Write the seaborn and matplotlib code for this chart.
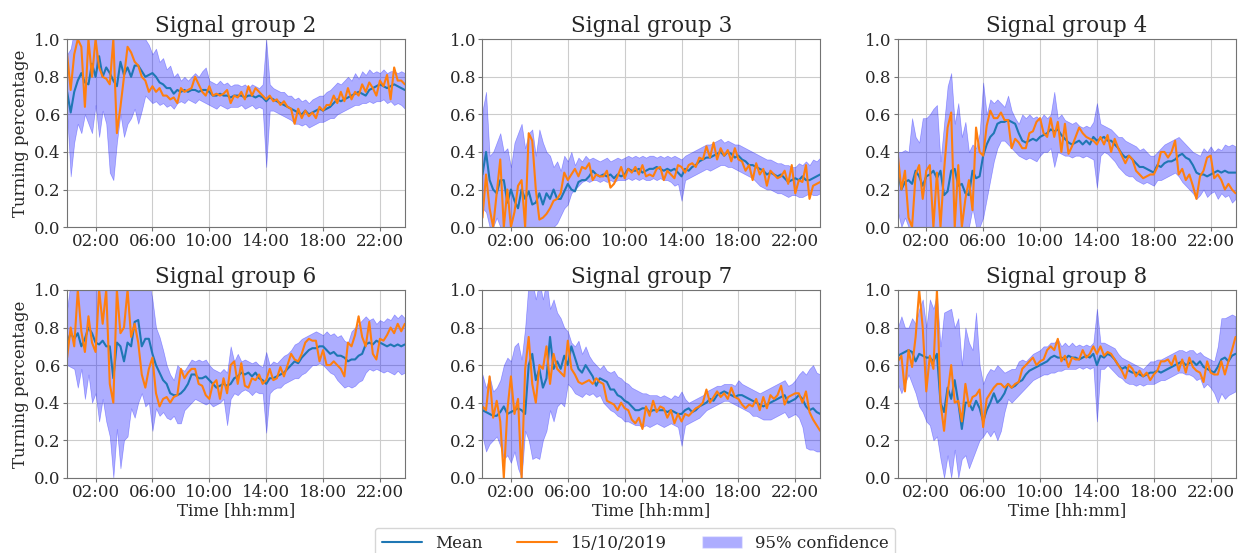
import numpy as np
import pandas as pd
import matplotlib
matplotlib.use('Agg')
import matplotlib.pyplot as plt
import matplotlib.dates as mdates
from matplotlib.lines import Line2D
from matplotlib.patches import Patch
import seaborn as sns

# 15-minute slots over one day
times = pd.date_range('2019-10-15 00:00', periods=96, freq='15min')

groups = ['Signal group 2', 'Signal group 3', 'Signal group 4',
          'Signal group 6', 'Signal group 7', 'Signal group 8']
day_label = '15/10/2019'

# ---- Signal group 2 ----
mean_sg2 = [0.72, 0.61, 0.72, 0.78, 0.82, 0.77, 0.76, 0.87,
            0.80, 0.91, 0.80, 0.85, 0.82, 0.78, 0.75, 0.88,
            0.81, 0.85, 0.80, 0.86, 0.86, 0.83, 0.80, 0.81,
            0.82, 0.80, 0.77, 0.76, 0.74, 0.74, 0.71, 0.73,
            0.72, 0.73, 0.72, 0.73, 0.73, 0.72, 0.73, 0.73,
            0.72, 0.70, 0.70, 0.71, 0.70, 0.70, 0.69, 0.70,
            0.70, 0.70, 0.69, 0.70, 0.70, 0.69, 0.70, 0.69,
            0.67, 0.69, 0.68, 0.67, 0.66, 0.65, 0.64, 0.63,
            0.62, 0.61, 0.60, 0.62, 0.60, 0.61, 0.62, 0.63,
            0.62, 0.63, 0.64, 0.66, 0.68, 0.67, 0.68, 0.69,
            0.70, 0.71, 0.72, 0.71, 0.70, 0.73, 0.74, 0.75,
            0.76, 0.75, 0.74, 0.75, 0.76, 0.75, 0.74, 0.73]
day_sg2 = [0.92, 0.73, 0.92, 1.00, 0.96, 0.64, 1.00, 0.80,
           1.00, 0.85, 0.80, 0.79, 0.76, 1.00, 0.50, 0.64,
           0.80, 0.96, 0.93, 0.88, 0.86, 0.80, 0.78, 0.72,
           0.75, 0.72, 0.74, 0.70, 0.70, 0.68, 0.69, 0.66,
           0.74, 0.72, 0.73, 0.74, 0.80, 0.76, 0.72, 0.70,
           0.75, 0.70, 0.71, 0.70, 0.71, 0.73, 0.66, 0.70,
           0.69, 0.72, 0.68, 0.75, 0.70, 0.74, 0.72, 0.70,
           0.68, 0.70, 0.67, 0.68, 0.65, 0.67, 0.64, 0.63,
           0.55, 0.63, 0.58, 0.62, 0.59, 0.61, 0.58, 0.64,
           0.62, 0.65, 0.65, 0.70, 0.66, 0.72, 0.67, 0.74,
           0.68, 0.72, 0.70, 0.76, 0.72, 0.77, 0.74, 0.70,
           0.78, 0.75, 0.81, 0.68, 0.85, 0.78, 0.78, 0.76]
hi_sg2 = [0.92, 0.95, 1.05, 1.05, 1.05, 1.05, 1.05, 1.05,
          1.05, 1.05, 1.05, 1.05, 1.05, 1.05, 1.05, 1.05,
          1.05, 1.05, 1.05, 1.05, 1.05, 1.02, 1.00, 0.97,
          0.92, 0.95, 0.88, 0.90, 0.84, 0.86, 0.80, 0.82,
          0.78, 0.80, 0.78, 0.80, 0.82, 0.80, 0.83, 0.85,
          0.78, 0.77, 0.76, 0.78, 0.76, 0.77, 0.75, 0.76,
          0.76, 0.75, 0.76, 0.74, 0.76, 0.75, 0.74, 0.76,
          1.00, 0.76, 0.74, 0.73, 0.72, 0.72, 0.70, 0.70,
          0.68, 0.69, 0.67, 0.68, 0.66, 0.68, 0.69, 0.70,
          0.70, 0.72, 0.73, 0.75, 0.77, 0.76, 0.78, 0.80,
          0.78, 0.82, 0.79, 0.83, 0.81, 0.84, 0.82, 0.83,
          0.82, 0.84, 0.82, 0.83, 0.83, 0.82, 0.83, 0.82]
lo_sg2 = [0.60, 0.27, 0.45, 0.55, 0.50, 0.60, 0.55, 0.50,
          0.65, 0.48, 0.62, 0.55, 0.29, 0.25, 0.45, 0.60,
          0.48, 0.55, 0.58, 0.63, 0.55, 0.62, 0.70, 0.68,
          0.66, 0.67, 0.65, 0.66, 0.64, 0.65, 0.63, 0.66,
          0.67, 0.66, 0.68, 0.67, 0.66, 0.68, 0.67, 0.66,
          0.65, 0.64, 0.63, 0.65, 0.64, 0.63, 0.64, 0.64,
          0.64, 0.65, 0.63, 0.64, 0.65, 0.63, 0.64, 0.63,
          0.32, 0.62, 0.62, 0.61, 0.60, 0.59, 0.58, 0.57,
          0.55, 0.55, 0.54, 0.55, 0.53, 0.54, 0.55, 0.56,
          0.56, 0.57, 0.58, 0.58, 0.60, 0.61, 0.62, 0.63,
          0.64, 0.65, 0.65, 0.66, 0.66, 0.67, 0.66, 0.67,
          0.67, 0.68, 0.66, 0.67, 0.65, 0.66, 0.65, 0.63]

# ---- Signal group 3 ----
mean_sg3 = [0.28, 0.40, 0.25, 0.20, 0.18, 0.25, 0.25, 0.13,
            0.20, 0.14, 0.10, 0.20, 0.15, 0.19, 0.12, 0.13,
            0.18, 0.12, 0.18, 0.15, 0.20, 0.15, 0.15, 0.19,
            0.23, 0.20, 0.19, 0.24, 0.25, 0.25, 0.27, 0.30,
            0.28, 0.27, 0.28, 0.27, 0.28, 0.26, 0.28, 0.27,
            0.28, 0.31, 0.30, 0.30, 0.31, 0.29, 0.30, 0.31,
            0.31, 0.32, 0.31, 0.30, 0.31, 0.30, 0.31, 0.29,
            0.27, 0.31, 0.30, 0.32, 0.33, 0.35, 0.36, 0.37,
            0.37, 0.38, 0.39, 0.40, 0.38, 0.40, 0.39, 0.37,
            0.38, 0.36, 0.35, 0.33, 0.33, 0.32, 0.31, 0.30,
            0.28, 0.29, 0.28, 0.27, 0.28, 0.26, 0.24, 0.25,
            0.26, 0.25, 0.27, 0.25, 0.25, 0.26, 0.27, 0.28]
day_sg3 = [0.05, 0.28, 0.10, 0.00, 0.18, 0.36, 0.00, 0.20,
           0.00, 0.08, 0.22, 0.25, 0.00, 0.50, 0.46, 0.20,
           0.04, 0.05, 0.07, 0.10, 0.14, 0.15, 0.18, 0.29,
           0.25, 0.28, 0.31, 0.27, 0.32, 0.31, 0.34, 0.25,
           0.28, 0.27, 0.27, 0.30, 0.21, 0.23, 0.27, 0.32,
           0.26, 0.31, 0.29, 0.32, 0.28, 0.33, 0.27, 0.28,
           0.27, 0.31, 0.32, 0.25, 0.30, 0.28, 0.26, 0.33,
           0.32, 0.29, 0.33, 0.34, 0.32, 0.37, 0.36, 0.43,
           0.37, 0.45, 0.36, 0.42, 0.38, 0.41, 0.35, 0.42,
           0.36, 0.35, 0.30, 0.33, 0.25, 0.34, 0.28, 0.31,
           0.22, 0.30, 0.28, 0.26, 0.27, 0.30, 0.23, 0.33,
           0.18, 0.25, 0.24, 0.33, 0.15, 0.22, 0.23, 0.24]
hi_sg3 = [0.62, 0.72, 0.38, 0.40, 0.45, 0.50, 0.40, 0.42,
          0.32, 0.45, 0.50, 0.55, 0.42, 0.50, 0.52, 0.38,
          0.52, 0.45, 0.40, 0.38, 0.32, 0.35, 0.30, 0.38,
          0.35, 0.40, 0.33, 0.37, 0.35, 0.38, 0.36, 0.37,
          0.36, 0.35, 0.36, 0.37, 0.35, 0.36, 0.37, 0.36,
          0.37, 0.38, 0.37, 0.38, 0.37, 0.38, 0.37, 0.38,
          0.38, 0.37, 0.38, 0.37, 0.38, 0.37, 0.38, 0.37,
          0.36, 0.38, 0.39, 0.40, 0.41, 0.42, 0.43, 0.44,
          0.44, 0.45, 0.46, 0.47, 0.45, 0.46, 0.45, 0.44,
          0.44, 0.43, 0.42, 0.41, 0.40, 0.39, 0.38, 0.37,
          0.36, 0.36, 0.35, 0.34, 0.34, 0.33, 0.33, 0.32,
          0.32, 0.34, 0.33, 0.35, 0.33, 0.36, 0.35, 0.37]
lo_sg3 = [0.10, 0.08, 0.00, 0.00, 0.05, 0.00, 0.00, 0.00,
          0.00, 0.00, 0.00, 0.00, 0.00, 0.00, 0.00, 0.00,
          0.00, 0.00, 0.00, 0.00, 0.00, 0.02, 0.06, 0.10,
          0.12, 0.18, 0.20, 0.22, 0.24, 0.25, 0.24, 0.25,
          0.25, 0.24, 0.25, 0.24, 0.25, 0.24, 0.25, 0.25,
          0.25, 0.26, 0.25, 0.26, 0.25, 0.26, 0.25, 0.25,
          0.26, 0.25, 0.26, 0.25, 0.25, 0.24, 0.22, 0.23,
          0.14, 0.25, 0.26, 0.27, 0.28, 0.29, 0.30, 0.31,
          0.30, 0.31, 0.32, 0.33, 0.33, 0.32, 0.32, 0.31,
          0.30, 0.29, 0.28, 0.27, 0.26, 0.24, 0.22, 0.21,
          0.20, 0.20, 0.19, 0.18, 0.18, 0.17, 0.16, 0.17,
          0.17, 0.16, 0.16, 0.17, 0.18, 0.17, 0.17, 0.18]

# ---- Signal group 4 ----
mean_sg4 = [0.30, 0.20, 0.24, 0.25, 0.23, 0.30, 0.27, 0.22,
            0.27, 0.28, 0.30, 0.26, 0.30, 0.17, 0.19, 0.30,
            0.31, 0.22, 0.23, 0.18, 0.17, 0.30, 0.26, 0.27,
            0.38, 0.44, 0.48, 0.50, 0.55, 0.56, 0.56, 0.57,
            0.56, 0.55, 0.50, 0.46, 0.45, 0.46, 0.47, 0.46,
            0.48, 0.49, 0.50, 0.52, 0.51, 0.52, 0.49, 0.47,
            0.45, 0.44, 0.45, 0.46, 0.44, 0.46, 0.44, 0.48,
            0.46, 0.47, 0.48, 0.46, 0.46, 0.44, 0.42, 0.39,
            0.37, 0.38, 0.36, 0.34, 0.32, 0.32, 0.31, 0.30,
            0.29, 0.33, 0.32, 0.34, 0.35, 0.35, 0.36, 0.38,
            0.39, 0.37, 0.36, 0.33, 0.29, 0.28, 0.28, 0.27,
            0.28, 0.29, 0.30, 0.29, 0.30, 0.29, 0.29, 0.29]
day_sg4 = [0.38, 0.20, 0.30, 0.05, 0.00, 0.28, 0.33, 0.15,
           0.30, 0.33, 0.00, 0.29, 0.00, 0.30, 0.53, 0.61,
           0.00, 0.33, 0.00, 0.15, 0.25, 0.09, 0.53, 0.40,
           0.38, 0.54, 0.62, 0.58, 0.58, 0.61, 0.57, 0.57,
           0.42, 0.47, 0.45, 0.42, 0.42, 0.50, 0.51, 0.56,
           0.58, 0.50, 0.48, 0.58, 0.48, 0.56, 0.40, 0.55,
           0.39, 0.43, 0.48, 0.53, 0.50, 0.48, 0.47, 0.46,
           0.44, 0.48, 0.44, 0.49, 0.40, 0.47, 0.42, 0.38,
           0.34, 0.38, 0.36, 0.30, 0.28, 0.26, 0.27, 0.28,
           0.28, 0.32, 0.40, 0.40, 0.37, 0.40, 0.46, 0.28,
           0.31, 0.25, 0.28, 0.22, 0.15, 0.27, 0.30, 0.37,
           0.38, 0.26, 0.28, 0.25, 0.20, 0.23, 0.20, 0.18]
hi_sg4 = [0.40, 0.40, 0.41, 0.40, 0.58, 0.48, 0.45, 0.58,
          0.58, 0.60, 0.63, 0.65, 0.35, 0.55, 0.75, 0.82,
          0.55, 0.66, 0.48, 0.56, 0.40, 0.44, 0.42, 0.50,
          0.77, 0.60, 0.68, 0.66, 0.68, 0.66, 0.64, 0.70,
          0.62, 0.58, 0.55, 0.60, 0.58, 0.60, 0.58, 0.59,
          0.57, 0.60, 0.58, 0.60, 0.72, 0.58, 0.60, 0.57,
          0.56, 0.55, 0.56, 0.54, 0.53, 0.54, 0.53, 0.56,
          0.66, 0.55, 0.54, 0.53, 0.52, 0.50, 0.48, 0.48,
          0.46, 0.45, 0.44, 0.43, 0.41, 0.42, 0.40, 0.38,
          0.38, 0.40, 0.42, 0.44, 0.45, 0.46, 0.47, 0.48,
          0.46, 0.44, 0.42, 0.40, 0.39, 0.38, 0.42, 0.40,
          0.43, 0.40, 0.42, 0.41, 0.44, 0.43, 0.44, 0.43]
lo_sg4 = [0.08, 0.00, 0.05, 0.00, 0.00, 0.00, 0.00, 0.00,
          0.00, 0.00, 0.00, 0.00, 0.00, 0.00, 0.00, 0.00,
          0.00, 0.00, 0.00, 0.00, 0.00, 0.10, 0.00, 0.00,
          0.05, 0.15, 0.25, 0.35, 0.42, 0.46, 0.46, 0.44,
          0.42, 0.40, 0.38, 0.37, 0.36, 0.37, 0.36, 0.35,
          0.38, 0.40, 0.40, 0.42, 0.32, 0.40, 0.39, 0.38,
          0.38, 0.37, 0.38, 0.38, 0.37, 0.38, 0.37, 0.36,
          0.21, 0.38, 0.40, 0.39, 0.37, 0.35, 0.32, 0.30,
          0.28, 0.27, 0.27, 0.25, 0.24, 0.23, 0.24, 0.23,
          0.22, 0.25, 0.25, 0.26, 0.27, 0.28, 0.29, 0.27,
          0.24, 0.22, 0.20, 0.18, 0.15, 0.17, 0.20, 0.16,
          0.18, 0.19, 0.15, 0.18, 0.16, 0.17, 0.13, 0.15]

# ---- Signal group 6 ----
mean_sg6 = [0.72, 0.77, 0.74, 0.77, 0.70, 0.74, 0.80, 0.77,
            0.72, 0.71, 0.73, 0.70, 0.70, 0.53, 0.72, 0.70,
            0.62, 0.72, 0.70, 0.83, 0.84, 0.70, 0.74, 0.74,
            0.66, 0.60, 0.56, 0.52, 0.50, 0.45, 0.44, 0.44,
            0.45, 0.47, 0.50, 0.55, 0.55, 0.53, 0.53, 0.54,
            0.52, 0.50, 0.48, 0.49, 0.50, 0.49, 0.50, 0.53,
            0.54, 0.56, 0.55, 0.56, 0.54, 0.56, 0.53, 0.52,
            0.50, 0.53, 0.53, 0.54, 0.55, 0.56, 0.58, 0.60,
            0.62, 0.61, 0.64, 0.66, 0.68, 0.69, 0.69, 0.70,
            0.70, 0.68, 0.66, 0.67, 0.65, 0.65, 0.64, 0.62,
            0.63, 0.63, 0.65, 0.66, 0.71, 0.72, 0.71, 0.73,
            0.72, 0.71, 0.70, 0.71, 0.70, 0.71, 0.70, 0.71]
day_sg6 = [0.64, 0.80, 0.70, 1.00, 0.78, 0.67, 0.86, 0.72,
           0.67, 1.00, 0.82, 1.00, 0.50, 0.40, 1.00, 0.77,
           0.80, 1.00, 0.75, 0.82, 0.72, 0.55, 0.48, 0.58,
           0.64, 0.45, 0.38, 0.42, 0.43, 0.40, 0.43, 0.44,
           0.58, 0.53, 0.56, 0.58, 0.58, 0.50, 0.49, 0.44,
           0.42, 0.50, 0.52, 0.42, 0.53, 0.45, 0.60, 0.62,
           0.50, 0.61, 0.49, 0.48, 0.53, 0.52, 0.55, 0.50,
           0.52, 0.58, 0.52, 0.53, 0.59, 0.54, 0.60, 0.66,
           0.63, 0.62, 0.66, 0.72, 0.74, 0.73, 0.73, 0.62,
           0.68, 0.60, 0.60, 0.62, 0.60, 0.58, 0.54, 0.72,
           0.70, 0.76, 0.86, 0.75, 0.70, 0.83, 0.66, 0.63,
           0.74, 0.73, 0.76, 0.80, 0.77, 0.82, 0.78, 0.82]
hi_sg6 = [0.90, 1.05, 1.05, 1.05, 1.05, 1.05, 1.05, 1.05,
          1.05, 1.05, 1.05, 1.05, 1.05, 1.05, 1.05, 1.05,
          1.05, 1.05, 1.05, 1.05, 1.05, 1.05, 1.05, 1.05,
          0.95, 0.80, 0.75, 0.68, 0.60, 0.55, 0.52, 0.60,
          0.58, 0.57, 0.60, 0.63, 0.62, 0.63, 0.62, 0.63,
          0.60, 0.58, 0.57, 0.56, 0.58, 0.56, 0.70, 0.62,
          0.66, 0.62, 0.63, 0.62, 0.61, 0.62, 0.60, 0.59,
          0.67, 0.60, 0.62, 0.61, 0.63, 0.65, 0.66, 0.68,
          0.71, 0.72, 0.74, 0.75, 0.76, 0.77, 0.78, 0.77,
          0.76, 0.78, 0.76, 0.77, 0.75, 0.76, 0.73, 0.72,
          0.78, 0.80, 0.82, 0.84, 0.86, 0.84, 0.85, 0.82,
          0.84, 0.83, 0.85, 0.84, 0.87, 0.85, 0.87, 0.85]
lo_sg6 = [0.60, 0.59, 0.58, 0.48, 0.58, 0.42, 0.55, 0.40,
          0.45, 0.30, 0.42, 0.30, 0.22, 0.00, 0.26, 0.05,
          0.20, 0.22, 0.37, 0.32, 0.40, 0.45, 0.38, 0.40,
          0.25, 0.37, 0.33, 0.35, 0.32, 0.31, 0.33, 0.29,
          0.29, 0.36, 0.38, 0.40, 0.42, 0.41, 0.40, 0.39,
          0.40, 0.38, 0.39, 0.40, 0.42, 0.28, 0.42, 0.45,
          0.44, 0.46, 0.47, 0.46, 0.44, 0.46, 0.45, 0.45,
          0.24, 0.45, 0.47, 0.48, 0.48, 0.50, 0.51, 0.52,
          0.53, 0.53, 0.55, 0.56, 0.58, 0.60, 0.60, 0.61,
          0.60, 0.58, 0.56, 0.55, 0.52, 0.50, 0.48, 0.49,
          0.48, 0.49, 0.51, 0.52, 0.56, 0.58, 0.57, 0.58,
          0.57, 0.56, 0.57, 0.56, 0.55, 0.57, 0.55, 0.56]

# ---- Signal group 7 ----
mean_sg7 = [0.36, 0.35, 0.34, 0.33, 0.33, 0.35, 0.38, 0.34,
            0.35, 0.36, 0.37, 0.36, 0.34, 0.60, 0.66, 0.52,
            0.58, 0.48, 0.53, 0.75, 0.58, 0.62, 0.58, 0.65,
            0.60, 0.70, 0.64, 0.58, 0.56, 0.60, 0.57, 0.54,
            0.49, 0.53, 0.52, 0.51, 0.47, 0.47, 0.44, 0.43,
            0.41, 0.40, 0.38, 0.36, 0.36, 0.37, 0.37, 0.35,
            0.36, 0.36, 0.36, 0.36, 0.35, 0.36, 0.35, 0.34,
            0.34, 0.36, 0.37, 0.35, 0.36, 0.38, 0.39, 0.40,
            0.42, 0.41, 0.44, 0.45, 0.46, 0.45, 0.44, 0.43,
            0.44, 0.44, 0.43, 0.42, 0.41, 0.40, 0.39, 0.38,
            0.39, 0.40, 0.41, 0.42, 0.43, 0.44, 0.40, 0.41,
            0.42, 0.44, 0.42, 0.38, 0.36, 0.37, 0.35, 0.34]
day_sg7 = [0.38, 0.36, 0.54, 0.32, 0.41, 0.30, 0.00, 0.36,
           0.54, 0.34, 0.42, 0.00, 0.58, 0.75, 0.50, 0.40,
           0.60, 0.58, 0.70, 0.50, 0.66, 0.58, 0.56, 0.54,
           0.73, 0.58, 0.55, 0.51, 0.50, 0.51, 0.52, 0.50,
           0.53, 0.51, 0.50, 0.41, 0.40, 0.39, 0.36, 0.40,
           0.37, 0.36, 0.31, 0.29, 0.32, 0.26, 0.38, 0.33,
           0.41, 0.35, 0.38, 0.37, 0.32, 0.36, 0.29, 0.34,
           0.30, 0.34, 0.33, 0.35, 0.37, 0.38, 0.40, 0.47,
           0.40, 0.43, 0.46, 0.43, 0.45, 0.42, 0.48, 0.43,
           0.42, 0.39, 0.37, 0.39, 0.38, 0.42, 0.36, 0.43,
           0.37, 0.44, 0.42, 0.44, 0.49, 0.39, 0.43, 0.44,
           0.45, 0.45, 0.40, 0.46, 0.35, 0.31, 0.28, 0.25]
hi_sg7 = [0.55, 0.48, 0.54, 0.46, 0.48, 0.52, 0.60, 0.64,
          0.62, 0.70, 0.72, 0.63, 0.80, 1.05, 1.05, 0.95,
          1.05, 0.95, 1.05, 0.90, 0.95, 0.88, 0.85, 0.80,
          0.78, 0.72, 0.70, 0.73, 0.66, 0.70, 0.65, 0.62,
          0.60, 0.58, 0.60, 0.57, 0.56, 0.57, 0.54, 0.53,
          0.51, 0.50, 0.48, 0.47, 0.46, 0.45, 0.45, 0.44,
          0.44, 0.44, 0.43, 0.44, 0.43, 0.42, 0.44, 0.43,
          0.46, 0.42, 0.40, 0.41, 0.42, 0.43, 0.44, 0.46,
          0.47, 0.48, 0.49, 0.49, 0.50, 0.50, 0.50, 0.49,
          0.52, 0.50, 0.49, 0.48, 0.47, 0.46, 0.45, 0.46,
          0.47, 0.48, 0.49, 0.50, 0.51, 0.52, 0.49, 0.50,
          0.52, 0.55, 0.57, 0.55, 0.58, 0.60, 0.56, 0.55]
lo_sg7 = [0.22, 0.14, 0.18, 0.20, 0.22, 0.17, 0.10, 0.12,
          0.08, 0.14, 0.05, 0.00, 0.25, 0.20, 0.10, 0.11,
          0.10, 0.20, 0.25, 0.36, 0.30, 0.38, 0.40, 0.38,
          0.50, 0.48, 0.45, 0.44, 0.43, 0.45, 0.44, 0.45,
          0.43, 0.44, 0.40, 0.38, 0.36, 0.35, 0.33, 0.32,
          0.30, 0.30, 0.29, 0.28, 0.28, 0.27, 0.28, 0.27,
          0.28, 0.29, 0.28, 0.27, 0.28, 0.29, 0.28, 0.27,
          0.17, 0.28, 0.29, 0.30, 0.31, 0.32, 0.34, 0.36,
          0.37, 0.38, 0.39, 0.40, 0.41, 0.41, 0.40, 0.39,
          0.38, 0.37, 0.36, 0.35, 0.33, 0.33, 0.32, 0.31,
          0.31, 0.31, 0.32, 0.33, 0.34, 0.35, 0.32, 0.33,
          0.34, 0.32, 0.27, 0.16, 0.15, 0.15, 0.14, 0.14]

# ---- Signal group 8 ----
mean_sg8 = [0.65, 0.66, 0.67, 0.68, 0.67, 0.62, 0.66, 0.65,
            0.64, 0.64, 0.62, 0.66, 0.40, 0.35, 0.48, 0.42,
            0.52, 0.40, 0.26, 0.40, 0.40, 0.36, 0.41, 0.37,
            0.30, 0.36, 0.40, 0.45, 0.40, 0.42, 0.45, 0.50,
            0.48, 0.49, 0.51, 0.52, 0.55, 0.57, 0.58, 0.59,
            0.60, 0.61, 0.62, 0.64, 0.65, 0.64, 0.64, 0.63,
            0.65, 0.64, 0.64, 0.63, 0.64, 0.65, 0.64, 0.66,
            0.60, 0.65, 0.64, 0.66, 0.65, 0.63, 0.60, 0.58,
            0.59, 0.57, 0.56, 0.56, 0.55, 0.54, 0.55, 0.56,
            0.56, 0.57, 0.56, 0.57, 0.58, 0.59, 0.60, 0.61,
            0.62, 0.60, 0.61, 0.62, 0.60, 0.62, 0.59, 0.58,
            0.57, 0.56, 0.59, 0.63, 0.64, 0.62, 0.65, 0.66]
day_sg8 = [0.62, 0.65, 0.46, 0.68, 0.59, 0.75, 1.00, 0.80,
           0.46, 0.65, 0.58, 1.00, 0.40, 0.25, 0.45, 0.60,
           0.40, 0.41, 0.30, 0.50, 0.38, 0.43, 0.44, 0.47,
           0.27, 0.42, 0.45, 0.48, 0.50, 0.50, 0.48, 0.50,
           0.48, 0.50, 0.51, 0.58, 0.60, 0.62, 0.64, 0.60,
           0.62, 0.63, 0.68, 0.70, 0.68, 0.74, 0.62, 0.65,
           0.59, 0.64, 0.63, 0.63, 0.68, 0.64, 0.66, 0.70,
           0.66, 0.70, 0.65, 0.67, 0.66, 0.63, 0.60, 0.57,
           0.53, 0.60, 0.58, 0.54, 0.57, 0.54, 0.56, 0.52,
           0.55, 0.57, 0.62, 0.62, 0.63, 0.60, 0.65, 0.57,
           0.63, 0.56, 0.64, 0.59, 0.57, 0.56, 0.51, 0.62,
           0.56, 0.55, 0.55, 0.62, 0.55, 0.62, 0.68, 0.75]
hi_sg8 = [0.80, 0.86, 0.80, 0.80, 0.85, 0.82, 0.90, 0.95,
          0.80, 0.95, 0.90, 0.98, 0.70, 0.88, 0.89, 0.90,
          0.80, 0.85, 0.60, 0.80, 0.72, 0.68, 0.88, 0.60,
          0.50, 0.55, 0.58, 0.57, 0.60, 0.58, 0.56, 0.57,
          0.58, 0.58, 0.62, 0.63, 0.62, 0.64, 0.66, 0.67,
          0.68, 0.70, 0.70, 0.72, 0.72, 0.74, 0.70, 0.72,
          0.70, 0.72, 0.70, 0.71, 0.70, 0.71, 0.70, 0.72,
          0.90, 0.72, 0.72, 0.71, 0.70, 0.69, 0.66, 0.64,
          0.63, 0.62, 0.61, 0.60, 0.59, 0.58, 0.60, 0.62,
          0.62, 0.63, 0.63, 0.64, 0.65, 0.66, 0.67, 0.68,
          0.68, 0.67, 0.68, 0.68, 0.66, 0.67, 0.65, 0.64,
          0.63, 0.62, 0.70, 0.85, 0.85, 0.86, 0.87, 0.86]
lo_sg8 = [0.50, 0.45, 0.50, 0.55, 0.50, 0.45, 0.38, 0.35,
          0.30, 0.28, 0.20, 0.22, 0.10, 0.00, 0.12, 0.00,
          0.15, 0.00, 0.10, 0.12, 0.05, 0.10, 0.15, 0.20,
          0.22, 0.25, 0.22, 0.25, 0.20, 0.25, 0.35, 0.42,
          0.40, 0.42, 0.44, 0.46, 0.48, 0.50, 0.52, 0.53,
          0.54, 0.55, 0.55, 0.56, 0.56, 0.57, 0.57, 0.58,
          0.58, 0.58, 0.58, 0.59, 0.58, 0.59, 0.58, 0.59,
          0.30, 0.58, 0.58, 0.60, 0.58, 0.56, 0.54, 0.53,
          0.51, 0.50, 0.50, 0.49, 0.50, 0.49, 0.50, 0.50,
          0.50, 0.51, 0.52, 0.52, 0.53, 0.54, 0.55, 0.56,
          0.56, 0.55, 0.55, 0.54, 0.52, 0.53, 0.48, 0.50,
          0.48, 0.45, 0.40, 0.45, 0.42, 0.44, 0.45, 0.46]

means = [mean_sg2, mean_sg3, mean_sg4, mean_sg6, mean_sg7, mean_sg8]
days = [day_sg2, day_sg3, day_sg4, day_sg6, day_sg7, day_sg8]
his = [hi_sg2, hi_sg3, hi_sg4, hi_sg6, hi_sg7, hi_sg8]
los = [lo_sg2, lo_sg3, lo_sg4, lo_sg6, lo_sg7, lo_sg8]

sns.set_style('whitegrid', {'axes.edgecolor': '0.45', 'grid.color': '0.8'})
plt.rcParams['font.family'] = ['DejaVu Serif']

fig, axes = plt.subplots(2, 3, figsize=(12.43, 5.53), dpi=100)
fig.subplots_adjust(left=0.054, right=0.994, top=0.929, bottom=0.136,
                    wspace=0.23, hspace=0.335)

for k, ax in enumerate(axes.flat):
    df = pd.DataFrame({'time': times, 'mean': means[k], 'day': days[k],
                       'lo': los[k], 'hi': his[k]})
    ax.fill_between(df['time'], df['lo'], df['hi'], color='blue',
                    alpha=0.32, linewidth=0.5)
    sns.lineplot(data=df, x='time', y='mean', ax=ax, color='tab:blue',
                 linewidth=1.5, legend=False)
    sns.lineplot(data=df, x='time', y='day', ax=ax, color='tab:orange',
                 linewidth=1.5, legend=False)
    ax.set_ylim(0, 1)
    ax.set_xlim(times[0], times[-1])
    ax.set_yticks([0.0, 0.2, 0.4, 0.6, 0.8, 1.0])
    ax.xaxis.set_major_locator(mdates.HourLocator(byhour=[2, 6, 10, 14, 18, 22]))
    ax.xaxis.set_major_formatter(mdates.DateFormatter('%H:%M'))
    ax.tick_params(labelsize=12, pad=1.5, left=True, bottom=True,
                   length=3, color='0.45')
    ax.set_title(groups[k], fontsize=15.5, pad=5)
    ax.set_xlabel('Time [hh:mm]' if k >= 3 else '', fontsize=12, labelpad=1)
    ax.set_ylabel('Turning percentage' if k % 3 == 0 else '', fontsize=12, labelpad=4)

handles = [Line2D([], [], color='tab:blue', lw=1.5),
           Line2D([], [], color='tab:orange', lw=1.5),
           Patch(facecolor='blue', alpha=0.32)]
fig.legend(handles, ['Mean', day_label, '95% confidence'], loc='lower center',
           ncol=3, fontsize=12, bbox_to_anchor=(0.511, -0.025),
           handlelength=2.4, columnspacing=2.1)

fig.savefig('out.png', dpi=100)
